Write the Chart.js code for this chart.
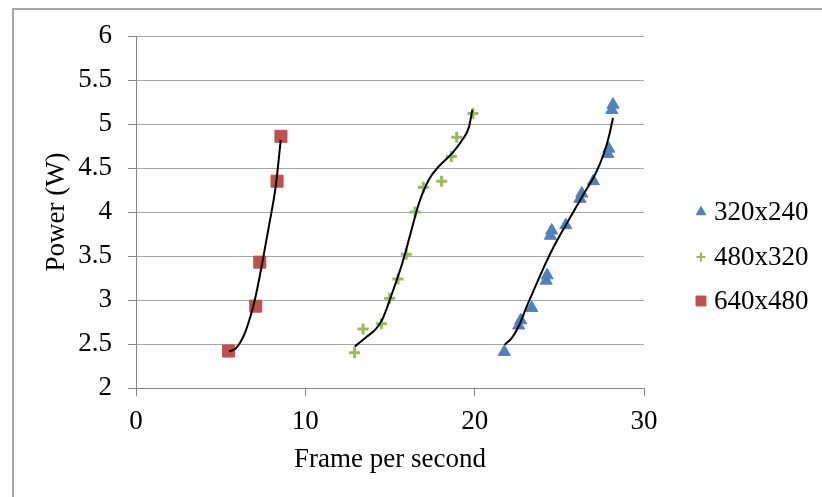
<!DOCTYPE html>
<html>
<head>
<meta charset="utf-8">
<script src="https://cdn.jsdelivr.net/npm/chart.js@4"></script>
<style>
html,body{margin:0;padding:0;background:#fff;}
#wrap{position:relative;width:822px;height:497px;}
</style>
</head>
<body>
<div id="wrap"><canvas id="c" width="822" height="497"></canvas></div>
<script>
// ---- data ----
const seriesNames = ['320x240', '480x320', '640x480'];

const res320X = [21.75, 22.60, 22.72, 23.37, 24.22, 24.28, 24.47, 24.55, 25.38, 26.22, 26.33, 27.01, 27.86, 27.92, 28.10, 28.17];
const res320Y = [2.41, 2.71, 2.77, 2.91, 3.22, 3.28, 3.73, 3.79, 3.85, 4.15, 4.21, 4.35, 4.66, 4.72, 5.16, 5.22];

const res480X = [12.91, 13.41, 14.49, 14.98, 15.47, 15.96, 16.48, 16.97, 18.05, 18.62, 18.94, 19.90];
const res480Y = [2.40, 2.67, 2.73, 3.02, 3.24, 3.52, 4.00, 4.28, 4.35, 4.63, 4.85, 5.12];

const res640X = [5.47, 7.07, 7.31, 8.33, 8.56];
const res640Y = [2.42, 2.93, 3.43, 4.35, 4.86];

// trend lines
const trend320X = [21.77, 22.22, 22.62, 23.01, 23.60, 24.20, 24.79, 25.57, 26.36, 27.15, 27.64, 27.93, 28.17];
const trend320Y = [2.49, 2.575, 2.71, 2.895, 3.16, 3.42, 3.65, 3.915, 4.18, 4.44, 4.67, 4.86, 5.07];

const trend480X = [12.92, 13.57, 14.16, 14.55, 15.14, 15.73, 16.22, 16.71, 17.30, 17.89, 18.68, 19.27, 19.67, 19.86];
const trend480Y = [2.47, 2.575, 2.67, 2.78, 3.085, 3.42, 3.76, 4.10, 4.37, 4.52, 4.67, 4.82, 4.97, 5.16];

const trend640X = [5.49, 5.89, 6.18, 6.48, 6.77, 7.07, 7.46, 7.85, 8.25, 8.55];
const trend640Y = [2.415, 2.45, 2.525, 2.65, 2.82, 3.046, 3.424, 3.84, 4.29, 4.82];

const xTicks = [0, 10, 20, 30];
const yTicks = [2, 2.5, 3, 3.5, 4, 4.5, 5, 5.5, 6];

const colors = ['#4F81BD', '#9BBB59', '#C0504D'];
const styles = ['triangle', 'cross', 'rect'];
const radii = [7, 5.5, 8.5];

const pts = (xs, ys) => xs.map((x, i) => ({x: x, y: ys[i]}));

const FONT = '"Liberation Serif", "Times New Roman", serif';
const FS = 27;

const markerSets = [pts(res320X, res320Y), pts(res480X, res480Y), pts(res640X, res640Y)];
const trendSets = [pts(trend320X, trend320Y), pts(trend480X, trend480Y), pts(trend640X, trend640Y)];

const datasets = [];
trendSets.forEach((d) => {
  datasets.push({
    data: d, showLine: true, pointRadius: 0, borderColor: '#000', borderWidth: 2,
    cubicInterpolationMode: 'monotone', fill: false, order: 0
  });
});
markerSets.forEach((d, i) => {
  datasets.push({
    label: seriesNames[i], data: d, pointStyle: styles[i], pointRadius: radii[i],
    pointBackgroundColor: colors[i], pointBorderColor: colors[i],
    pointBorderWidth: i === 1 ? 3 : 1, showLine: false, order: 1
  });
});

const framePlugin = {
  id: 'frame',
  beforeDraw(chart) {
    const ctx = chart.ctx;
    ctx.save();
    ctx.fillStyle = '#fff';
    ctx.fillRect(0, 0, chart.width, chart.height);
    ctx.strokeStyle = '#a6a6a6';
    ctx.lineWidth = 2;
    ctx.strokeRect(13, 9, 830, 510);
    ctx.restore();
  }
};

const legendPlugin = {
  id: 'customLegend',
  afterDraw(chart) {
    const ctx = chart.ctx;
    const ys = [212, 257, 301];
    const sizes = [5.5, 4.5, 7];
    ctx.save();
    seriesNames.forEach((name, i) => {
      ctx.fillStyle = colors[i];
      ctx.strokeStyle = colors[i];
      ctx.lineWidth = i === 1 ? 2 : 1;
      Chart.helpers.drawPoint(ctx, {pointStyle: styles[i], radius: sizes[i], rotation: 0, borderWidth: ctx.lineWidth}, 701, ys[i]);
      ctx.fillStyle = '#000';
      ctx.font = FS + 'px ' + FONT;
      ctx.textBaseline = 'middle';
      ctx.textAlign = 'left';
      ctx.fillText(name, 714, ys[i] + 1);
    });
    ctx.restore();
  }
};

new Chart(document.getElementById('c'), {
  type: 'scatter',
  data: {datasets: datasets},
  plugins: [framePlugin, legendPlugin],
  options: {
    responsive: false,
    animation: false,
    layout: {padding: {left: 0, top: 36, right: 178, bottom: 0}},
    plugins: {legend: {display: false}, tooltip: {enabled: false}},
    scales: {
      x: {
        type: 'linear', min: 0, max: 30,
        afterBuildTicks(s) { s.ticks = xTicks.map(v => ({value: v})); },
        afterFit(s) { s.height = 109; },
        grid: {display: true, drawOnChartArea: false, drawTicks: true, tickLength: 8, tickColor: '#868686', tickWidth: 1},
        border: {display: true, color: '#868686', width: 1},
        ticks: {color: '#000', font: {family: FONT, size: FS}, padding: 10, maxRotation: 0, callback: v => String(v)},
        title: {display: true, text: 'Frame per second', color: '#000', font: {family: FONT, size: FS}, padding: {top: 0, bottom: 21}}
      },
      y: {
        type: 'linear', min: 2, max: 6,
        afterBuildTicks(s) { s.ticks = yTicks.map(v => ({value: v})); },
        afterFit(s) { s.width = 136; },
        grid: {display: true, drawOnChartArea: true, drawTicks: true, tickLength: 8, color: '#a6a6a6', lineWidth: 1,
               borderDash: [2, 2], tickColor: '#868686', tickBorderDash: [], tickWidth: 1},
        border: {display: true, color: '#868686', width: 1},
        ticks: {color: '#000', font: {family: FONT, size: FS}, padding: 16, callback: v => String(v)},
        title: {display: true, text: 'Power (W)', color: '#000', font: {family: FONT, size: FS}, padding: {top: 41, bottom: 0}}
      }
    }
  }
});
</script>
</body>
</html>
